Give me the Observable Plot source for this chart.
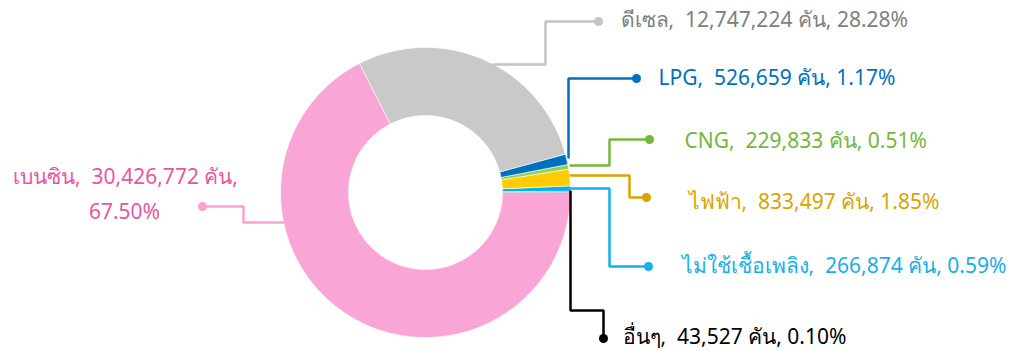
<!DOCTYPE html>
<html>
<head>
<meta charset="utf-8">
<script src="https://cdn.jsdelivr.net/npm/d3@7"></script>
<script src="https://cdn.jsdelivr.net/npm/@observablehq/plot@0.6"></script>
<style>
  html, body { margin: 0; padding: 0; background: #fff; }
  svg text { white-space: pre; }
</style>
</head>
<body>
<div id="chart"></div>
<script>
// ---- data ----
const categories = ["เบนซิน", "ดีเซล", "LPG", "CNG", "ไฟฟ้า", "ไม่ใช้เชื้อเพลิง", "อื่นๆ"];
const counts = [30426772, 12747224, 526659, 229833, 833497, 266874, 43527];
const shares = [67.50, 28.28, 1.17, 0.51, 1.85, 0.59, 0.10];
const unit = "คัน";

// ---- styles ----
const sliceColors = ["#f9a5d5", "#c9c9c9", "#0070c0", "#92d050", "#ffcc00", "#00b0f0", "#1f3864"];
const labelColors = ["#e8569f", "#808080", "#0070c0", "#76b63a", "#d9a400", "#16afea", "#000000"];
const lineColors  = ["#f7a3d2", "#c4c4c4", "#0070c0", "#76b63a", "#d9a400", "#16afea", "#000000"];

// ---- layout (pixel space, center of donut at origin) ----
const W = 1016, H = 351, CX = 425, CY = 192;
const R_OUT = 145, R_IN = 77;
const P = (px, py) => [px - CX, CY - py];
const leaders = [
  [P(283, 222), P(243, 222), P(243, 206), P(202, 206)],
  [P(493, 64), P(545, 64), P(545, 21), P(598, 21)],
  [P(568, 157), P(568, 78), P(636, 78)],
  [P(570, 165), P(609, 165), P(609, 139), P(649, 139)],
  [P(570, 175), P(629, 175), P(629, 197), P(646, 197)],
  [P(570, 188), P(609, 188), P(609, 266), P(648, 266)],
  [P(570, 191), P(570, 310), P(603, 310), P(603, 338)]
];
const labelPos = [
  null,
  {x: 620, y: 20},
  {x: 658, y: 78},
  {x: 684, y: 141},
  {x: 688, y: 202},
  {x: 681, y: 266},
  {x: 622, y: 337}
];
const FS = 21;

// ---- derived ----
const fmt = d3.format(",");
const pie = d3.pie().sort(null).value(d => d).startAngle(Math.PI / 2).endAngle(Math.PI / 2 + 2 * Math.PI);
const arcs = pie(counts);

const polys = [];
arcs.forEach((a, i) => {
  const n = Math.max(2, Math.ceil((a.endAngle - a.startAngle) / 0.01));
  const pts = [];
  for (let k = 0; k <= n; k++) {
    const t = a.startAngle + (a.endAngle - a.startAngle) * k / n;
    pts.push([R_OUT * Math.sin(t), R_OUT * Math.cos(t)]);
  }
  for (let k = n; k >= 0; k--) {
    const t = a.startAngle + (a.endAngle - a.startAngle) * k / n;
    pts.push([R_IN * Math.sin(t), R_IN * Math.cos(t)]);
  }
  pts.forEach(p => polys.push({cat: categories[i], x: p[0], y: p[1]}));
});

const leaderPts = [];
const dots = [];
leaders.forEach((pts, i) => {
  pts.forEach(p => leaderPts.push({cat: categories[i], x: p[0], y: p[1]}));
  const last = pts[pts.length - 1];
  dots.push({cat: categories[i], x: last[0], y: last[1]});
});

const labels = [];
categories.forEach((c, i) => {
  if (!labelPos[i]) return;
  const [x, y] = P(labelPos[i].x, labelPos[i].y);
  labels.push({cat: c, x, y, text: `${c},  ${fmt(counts[i])} ${unit}, ${shares[i].toFixed(2)}%`});
});
const pl1 = P(125, 177), pl2 = P(124, 212);
const pinkLines = [
  {cat: categories[0], x: pl1[0], y: pl1[1], text: `${categories[0]},  ${fmt(counts[0])} ${unit},`},
  {cat: categories[0], x: pl2[0], y: pl2[1], text: `${shares[0].toFixed(2)}%`}
];

const colorOf = (arr) => d => arr[categories.indexOf(d.cat)];

const chart = Plot.plot({
  width: W,
  height: H,
  margin: 0,
  style: {background: "#fff", fontFamily: "Tahoma, 'Noto Sans', 'DejaVu Sans', sans-serif"},
  x: {domain: [-CX, W - CX], range: [0, W], axis: null},
  y: {domain: [CY - H, CY], range: [H, 0], axis: null},
  marks: [
    Plot.line(polys, {x: "x", y: "y", z: "cat", fill: colorOf(sliceColors), stroke: "#fff", strokeWidth: 0.6, curve: "linear-closed"}),
    Plot.line(leaderPts, {x: "x", y: "y", z: "cat", stroke: colorOf(lineColors), strokeWidth: 2.5, strokeLinejoin: "miter"}),
    Plot.dot(dots, {x: "x", y: "y", r: 4.5, fill: colorOf(lineColors), stroke: "none"}),
    Plot.text(labels, {x: "x", y: "y", text: "text", fill: colorOf(labelColors), textAnchor: "start", fontSize: FS}),
    Plot.text(pinkLines, {x: "x", y: "y", text: "text", fill: labelColors[0], textAnchor: "middle", fontSize: FS})
  ]
});
document.getElementById("chart").appendChild(chart);
</script>
</body>
</html>
